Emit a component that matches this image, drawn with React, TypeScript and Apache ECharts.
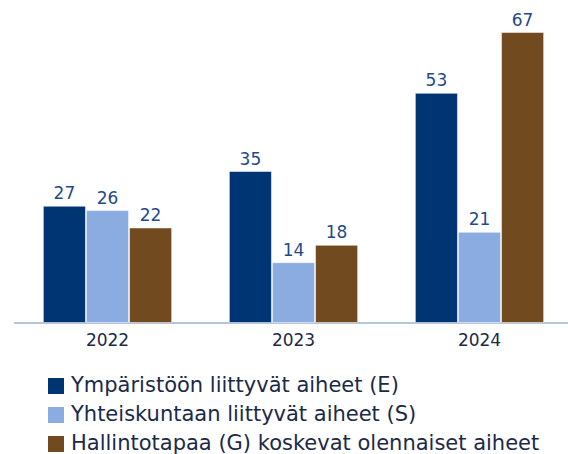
import React, { useEffect, useRef } from "react";
import * as echarts from "echarts";

const categories = ["2022", "2023", "2024"];
const seriesNames = [
  "Ympäristöön liittyvät aiheet (E)",
  "Yhteiskuntaan liittyvät aiheet (S)",
  "Hallintotapaa (G) koskevat olennaiset aiheet",
];
const envValues = [27, 35, 53];
const socValues = [26, 14, 21];
const govValues = [22, 18, 67];
const colors = ["#003574", "#8AACE0", "#714A20"];

export default function App() {
  const ref = useRef<HTMLDivElement>(null);
  useEffect(() => {
    if (!ref.current) return;
    const chart = echarts.init(ref.current, undefined, { renderer: "svg" });
    const font = "DejaVu Sans";
    const data = [envValues, socValues, govValues];
    const legendTop = 378;
    const legendStep = 29;
    const legendItems: any[] = [];
    seriesNames.forEach((name, i) => {
      legendItems.push({
        type: "rect",
        left: 48,
        top: legendTop + i * legendStep,
        shape: { width: 16, height: 16 },
        style: { fill: colors[i] },
      });
      legendItems.push({
        type: "text",
        left: 71,
        top: legendTop + i * legendStep - 4,
        style: { text: name, fontSize: 21, fill: "#1B2A47", fontFamily: font },
      });
    });
    chart.setOption({
      animation: false,
      textStyle: { fontFamily: font },
      grid: { left: 14.5, width: 558, top: 19, bottom: 131, containLabel: false, outerBoundsMode: "none" },
      graphic: legendItems,
      xAxis: {
        type: "category",
        data: categories,
        axisLine: { lineStyle: { color: "#9FB3CC", width: 1.5 } },
        axisTick: { alignWithLabel: true, length: 5, lineStyle: { color: "#5A6E8C" } },
        axisLabel: { fontSize: 17, color: "#1B2A47", margin: 8, fontFamily: font },
      },
      yAxis: {
        type: "value",
        min: 0,
        max: 70,
        show: false,
        splitLine: { show: false },
      },
      series: data.map((d, i) => ({
        type: "bar",
        name: seriesNames[i],
        data: d,
        barGap: "0%",
        barCategoryGap: "30.5%",
        itemStyle: { color: colors[i], borderColor: "rgba(255,255,255,0.5)", borderWidth: 1 },
        label: {
          show: true,
          position: "top",
          distance: 4,
          fontSize: 17,
          color: "#1F4A8A",
          fontFamily: font,
        },
      })),
    });
    return () => chart.dispose();
  }, []);
  return <div ref={ref} style={{ width: 568, height: 454, position: "absolute", left: 0, top: 0 }} />;
}
